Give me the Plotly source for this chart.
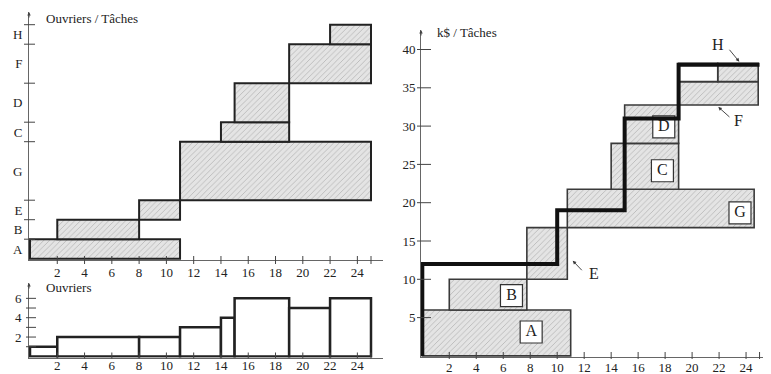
import plotly.graph_objects as go
import numpy as np

# The page body adds an 8px margin: the figure is sized to fill the rest of the window.
OX, OY = 8, 8
W, H = 771 - OX, 374 - OY
SERIF = "Liberation Serif"
INK = "#222222"
AXC = "#666666"

# ---------------- data ----------------
tasks = ["A", "B", "E", "G", "C", "D", "F", "H"]
task_start = [0, 2, 8, 11, 14, 15, 19, 22]
task_end = [11, 8, 11, 25, 19, 19, 25, 25]
task_workers = [1, 1, 1, 3, 1, 2, 2, 1]

load_start = [0, 2, 8, 11, 14, 15, 19, 22]
load_end = [2, 8, 11, 14, 15, 19, 22, 25]
load_workers = [1, 2, 2, 3, 4, 6, 5, 6]

cost_tasks = ["A", "B", "E", "G", "C", "D", "F", "H"]
cost_x0 = [0, 2, 7.75, 10.75, 14, 15, 19, 21.9]
cost_x1 = [11, 7.75, 10.75, 24.6, 19, 19, 24.9, 24.9]
cost_y0 = [0, 6, 10, 16.75, 21.75, 27.75, 32.75, 35.8]
cost_y1 = [6, 10, 16.75, 21.75, 27.75, 32.75, 35.8, 38.2]

blank_x0, blank_x1 = [19], [21.9]
blank_y0, blank_y1 = [35.8], [38.2]

cum_x = [0, 0, 10, 15, 19, 25]
cum_y = [0, 12, 19, 31, 38, 38]

box_labels = ["A", "B", "G", "C", "D"]
box_x = [8.07, 6.61, 23.55, 17.8, 17.9]
box_y = [3.12, 7.88, 18.66, 24.17, 29.9]

callout_labels = ["E", "F", "H"]
callout_tip_x = [11.15, 21.94, 23.5]
callout_tip_y = [12.43, 32.5, 38.4]
callout_tail_x = [11.93, 22.88, 22.68]
callout_tail_y = [10.99, 31.02, 40.16]
callout_text_x = [12.74, 23.42, 21.94]
callout_text_y = [10.7, 30.7, 40.7]

day_ticks = [2, 4, 6, 8, 10, 12, 14, 16, 18, 20, 22, 24]
load_ticks = [1, 2, 3, 4, 5, 6]
load_labels = ["", "2", "", "4", "", "6"]
cost_ticks = [5, 10, 15, 20, 25, 30, 35, 40]

# ---------------- geometry helpers (window pixels -> figure fractions) ----------------
def fx(p):
    return (p - OX) / W

def fy(p):
    return 1 - (p - OY) / H

def xgeom(lo, hi, origin, unit):
    return dict(domain=[fx(lo), fx(hi)], range=[(lo - origin) / unit, (hi - origin) / unit])

def ygeom(b, t, origin, unit):
    return dict(domain=[fy(b), fy(t)], range=[(origin - b) / unit, (origin - t) / unit])

g_x1 = xgeom(29, 383, 30, 13.64)
g_y1 = ygeom(260, 12, 258.7, 19.5)
g_x2 = xgeom(29, 383, 30, 13.64)
g_y2 = ygeom(357.5, 283, 356.4, 9.675)
g_x3 = xgeom(421, 768, 422.3, 13.49)
g_y3 = ygeom(357, 30, 355.9, 7.66)

pattern = dict(shape="/", fgcolor="#8e8e8e", size=4, solidity=0.22, fillmode="overlay")
hatch_color = "#e4e4e4"

fig = go.Figure()

# Top-left: tasks / workers
bounds = list(np.cumsum(task_workers))
mids = [b - w / 2 for b, w in zip(bounds, task_workers)]
fig.add_trace(go.Bar(
    orientation="h", y=mids, width=task_workers, base=task_start,
    x=[e - s for s, e in zip(task_start, task_end)],
    marker=dict(color=hatch_color, line=dict(color=INK, width=2), pattern=pattern),
    xaxis="x", yaxis="y", showlegend=False, hoverinfo="skip"))

# Bottom-left: workers load
fig.add_trace(go.Bar(
    x=load_start, offset=0, width=[e - s for s, e in zip(load_start, load_end)],
    y=load_workers,
    marker=dict(color="white", line=dict(color=INK, width=2.5)),
    xaxis="x2", yaxis="y2", showlegend=False, hoverinfo="skip"))

# Right: cost rectangles
fig.add_trace(go.Bar(
    x=cost_x0, offset=0, width=[b - a for a, b in zip(cost_x0, cost_x1)],
    base=cost_y0, y=[b - a for a, b in zip(cost_y0, cost_y1)],
    marker=dict(color=hatch_color, line=dict(color="#3a3a3a", width=1.6), pattern=pattern),
    xaxis="x3", yaxis="y3", showlegend=False, hoverinfo="skip"))
fig.add_trace(go.Bar(
    x=blank_x0, offset=0, width=[b - a for a, b in zip(blank_x0, blank_x1)],
    base=blank_y0, y=[b - a for a, b in zip(blank_y0, blank_y1)],
    marker=dict(color="white", line=dict(color="#3a3a3a", width=1.6)),
    xaxis="x3", yaxis="y3", showlegend=False, hoverinfo="skip"))

# label boxes
fig.add_trace(go.Scatter(
    x=box_x, y=box_y, mode="markers+text", text=box_labels,
    textposition="middle center",
    textfont=dict(family=SERIF, size=16, color=INK),
    marker=dict(symbol="square", size=22, color="white", line=dict(color="#333", width=1.2)),
    xaxis="x3", yaxis="y3", showlegend=False, hoverinfo="skip", cliponaxis=False))

# cumulative cost step line
fig.add_trace(go.Scatter(
    x=cum_x, y=cum_y, mode="lines", line=dict(color="#111", width=4, shape="hv"),
    xaxis="x3", yaxis="y3", showlegend=False, hoverinfo="skip", cliponaxis=False))

# ---------------- axes ----------------
tickfont = dict(family=SERIF, size=13, color=INK)
common = dict(showgrid=False, zeroline=False, showline=True, linecolor=AXC, linewidth=1,
              tickmode="array", tickfont=tickfont, ticks="outside", automargin=False,
              tickcolor="rgba(0,0,0,0)", fixedrange=True)

fig.update_layout(
    template="none",
    width=W, height=H, margin=dict(l=0, r=0, t=0, b=0, pad=0),
    paper_bgcolor="white", plot_bgcolor="white", barmode="overlay",
    font=dict(family=SERIF, color=INK),
    xaxis=dict(**common, **g_x1, anchor="y", tickvals=day_ticks, ticktext=[str(v) for v in day_ticks],
               ticklen=0),
    yaxis=dict(**common, **g_y1, anchor="x", tickvals=mids, ticktext=tasks, ticklen=3),
    xaxis2=dict(**common, **g_x2, anchor="y2", tickvals=day_ticks, ticktext=[str(v) for v in day_ticks],
                ticklen=0, ticklabelstandoff=-4),
    yaxis2=dict(**common, **g_y2, anchor="x2", tickvals=load_ticks, ticktext=load_labels, ticklen=4),
    xaxis3=dict(**common, **g_x3, anchor="y3", tickvals=day_ticks, ticktext=[str(v) for v in day_ticks],
                ticklen=0, ticklabelstandoff=-2),
    yaxis3=dict(**common, **g_y3, anchor="x3", tickvals=cost_ticks, ticktext=[str(v) for v in cost_ticks],
                ticklen=2),
)

# ---------------- tick marks (crossing the axis lines) ----------------
shapes = []
def xticks(xa, ya, vals, hpx, down, up):
    for v in vals:
        shapes.append(dict(type="line", xref=xa, yref=ya + " domain", x0=v, x1=v,
                           y0=-down / hpx, y1=up / hpx, line=dict(color="#444", width=1)))

def yticks(xa, ya, vals, wpx, left, right):
    for v in vals:
        shapes.append(dict(type="line", xref=xa + " domain", yref=ya, x0=-left / wpx, x1=right / wpx,
                           y0=v, y1=v, line=dict(color="#444", width=1)))

xticks("x", "y", day_ticks + [25], 248, 4, 4)
yticks("x", "y", bounds, 354, 5, 6)
xticks("x2", "y2", day_ticks + [25], 74.5, 1, 5)
yticks("x2", "y2", load_ticks, 354, 3, 7)
xticks("x3", "y3", day_ticks + [25], 327, 2, 5)
yticks("x3", "y3", cost_ticks, 347, 4, 10)
fig.update_layout(shapes=shapes)

# ---------------- annotations ----------------
ann = []
# axis arrows
for xa, ya in [("x", "y"), ("x2", "y2"), ("x3", "y3")]:
    ann.append(dict(xref=xa + " domain", yref=ya + " domain", x=0, y=1, ax=0, ay=7,
                    text="", showarrow=True, arrowhead=2, arrowsize=0.7, arrowwidth=1,
                    arrowcolor="#444"))
# titles
ann.append(dict(xref="paper", yref="paper", x=fx(44), y=fy(18.5), xanchor="left", yanchor="middle",
                text="Ouvriers / Tâches", showarrow=False, font=dict(family=SERIF, size=13, color=INK)))
ann.append(dict(xref="paper", yref="paper", x=fx(44), y=fy(287.5), xanchor="left", yanchor="middle",
                text="Ouvriers", showarrow=False, font=dict(family=SERIF, size=13, color=INK)))
ann.append(dict(xref="paper", yref="paper", x=fx(435), y=fy(33), xanchor="left", yanchor="middle",
                text="k$ / Tâches", showarrow=False, font=dict(family=SERIF, size=13, color=INK)))
# callouts
for lab, tx, ty, sx, sy, lx, ly in zip(callout_labels, callout_tip_x, callout_tip_y,
                                        callout_tail_x, callout_tail_y, callout_text_x, callout_text_y):
    ann.append(dict(xref="x3", yref="y3", axref="x3", ayref="y3", x=tx, y=ty, ax=sx, ay=sy,
                    text="", showarrow=True, arrowhead=2, arrowsize=0.8, arrowwidth=0.9,
                    arrowcolor="#333"))
    ann.append(dict(xref="x3", yref="y3", x=lx, y=ly, text=lab, showarrow=False,
                    font=dict(family=SERIF, size=16, color=INK)))
fig.update_layout(annotations=ann)

fig.write_html("out.html")
